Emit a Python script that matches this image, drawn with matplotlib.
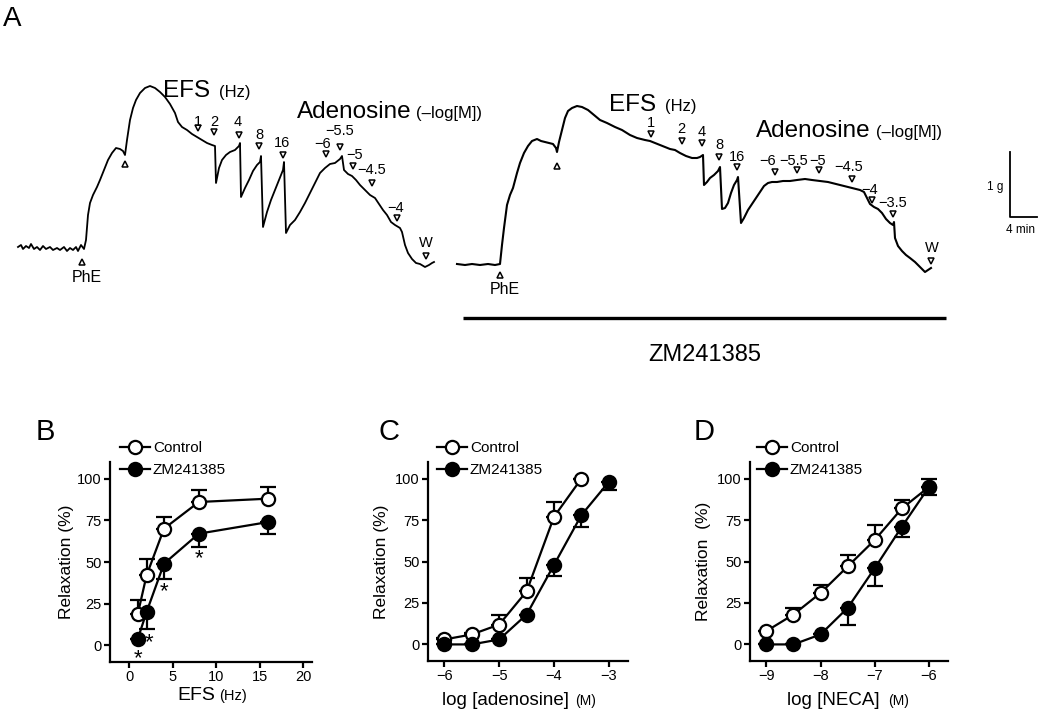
import numpy as np
import matplotlib
matplotlib.use("Agg")
import matplotlib.pyplot as plt
from matplotlib.lines import Line2D

plt.rcParams['font.family'] = ['Liberation Sans', 'DejaVu Sans']

W, H = 1038, 714

# ---------------- Panel A: recording traces (recording units; 6.75 units = 1 min, 65 units = 1 g, level axis inverted) ----
ctrl_trace_t = [18, 21, 23, 26, 29, 31, 34, 37, 40, 43, 46, 50, 53, 57, 60, 64, 67, 70, 73, 76, 78, 81, 84,
                86, 88, 90, 93, 97, 100, 104, 108, 112, 116, 120, 123, 125,
                127, 130, 133, 136, 140, 145, 150, 155, 160, 165, 170, 175, 178, 182, 187, 192, 197, 202, 207, 212, 215,
                216, 219, 222, 226, 230, 235, 239, 240,
                241, 245, 249, 253, 257, 260, 261,
                263, 267, 271, 275, 279, 283, 284,
                286, 290, 295, 300, 305, 310, 315, 320, 325, 330, 335, 340, 342,
                344, 348, 352, 356, 360, 365, 370, 375, 379, 383, 387, 391, 395, 400, 402, 405, 408, 412, 416, 420, 425, 429, 432, 434]
ctrl_trace_level = [247, 245, 249, 246, 248, 244, 249, 247, 250, 246, 249, 247, 250, 248, 250, 247, 251, 248, 250, 247, 251, 245, 249,
                    240, 215, 203, 195, 187, 180, 170, 160, 153, 148, 149, 151, 155,
                    140, 120, 108, 100, 93, 88, 86, 88, 92, 97, 104, 113, 122, 127, 130, 134, 137, 140, 143, 145, 146,
                    183, 168, 160, 155, 152, 150, 146, 143,
                    197, 188, 180, 171, 165, 162, 156,
                    227, 212, 200, 190, 180, 170, 162,
                    233, 225, 220, 212, 203, 193, 183, 173, 168, 164, 163, 159, 156,
                    170, 174, 176, 180, 185, 190, 195, 198, 204, 210, 215, 222, 225, 228, 232, 245, 253, 259, 263, 264, 267, 265, 263, 262]

zm_trace_t = [457, 465, 472, 480, 488, 495, 500,
              502, 504, 507, 510, 513, 517, 520, 524, 528, 532, 537, 541, 545, 549, 553, 556, 557,
              559, 562, 565, 568, 572, 577, 582, 588, 594, 600, 607, 615, 622, 630, 637, 645, 650, 655, 660, 665,
              670, 675, 680, 686, 692, 697, 700, 703,
              704, 707, 710, 714, 718, 720,
              722, 725, 728, 731, 734, 737, 738,
              741, 744, 748, 752, 756, 760, 764, 768, 772, 777, 783, 790, 797, 805, 812, 820, 828, 836, 844, 852,
              860, 864, 867, 870, 874, 878, 882, 886, 890, 893, 894,
              895, 898, 902, 906, 910, 915, 920, 925, 928, 931]
zm_trace_level = [264, 265, 264, 265, 264, 265, 264,
                  245, 228, 205, 195, 188, 173, 163, 153, 146, 141, 139, 141, 142, 143, 144, 148, 152,
                  142, 130, 118, 111, 108, 106, 107, 110, 115, 120, 123, 127, 130, 135, 138, 140, 141, 143, 145, 147,
                  149, 150, 153, 156, 158, 158, 157, 155,
                  185, 182, 178, 175, 171, 167,
                  209, 208, 203, 193, 185, 180, 177,
                  223, 218, 210, 204, 198, 192, 186, 183, 182, 182, 181, 181, 180, 179, 180, 181, 182, 184, 186, 188,
                  190, 192, 198, 204, 207, 209, 213, 219, 223, 225, 222,
                  238, 246, 251, 255, 258, 262, 267, 272, 270, 268]

# event marks: (label, label x, label y, arrow x, arrow y)
ctrl_events = [("1", 198, 122, 198, 128), ("2", 214, 122, 214, 132), ("4", 238, 122, 239, 135),
               ("8", 259, 135, 259, 146), ("16", 282, 143, 283, 155), ("\u22126", 323, 144, 326, 154),
               ("\u22125.5", 340, 131, 340, 147), ("\u22125", 355, 155, 353, 166),
               ("\u22124.5", 372, 170, 372, 183), ("\u22124", 396, 208, 397, 218), ("W", 426, 243, 426, 256)]
zm_events = [("1", 651, 123, 651, 134), ("2", 681, 129, 682, 141), ("4", 702, 132, 702, 143),
             ("8", 719, 145, 719, 157), ("16", 737, 157, 737, 167), ("\u22126", 768, 161, 775, 172),
             ("\u22125.5", 794, 161, 797, 170), ("\u22125", 818, 161, 819, 170),
             ("\u22124.5", 849, 167, 852, 179), ("\u22124", 870, 190, 872, 200),
             ("\u22123.5", 893, 203, 893, 214), ("W", 932, 248, 931, 261)]
up_arrows_t = [82, 125, 500, 557]
up_arrows_level = [262, 164, 275, 166]

# ---------------- Panels B-D data ----------------
efs_hz = [1, 2, 4, 8, 16]
efs_ctrl = [19, 42, 70, 86, 88]
efs_ctrl_err = [8, 10, 7, 7, 7]
efs_zm = [4, 20, 49, 67, 74]
efs_zm_err = [0, 10, 9, 8, 7]
efs_sig_x = [1, 2.3, 4, 8]
efs_sig_y = [-4, 5.5, 36.5, 56]

ado_log = [-6, -5.5, -5, -4.5, -4, -3.5, -3]
ado_ctrl = [3, 6, 12, 32, 77, 100, None]
ado_ctrl_err = [1, 1, 6, 8, 9, 0, None]
ado_zm = [0, 0, 3, 18, 48, 78, 98]
ado_zm_err = [0, 0, 0, 0, 7, 7, 5]

neca_log = [-9, -8.5, -8, -7.5, -7, -6.5, -6]
neca_ctrl = [8, 18, 31, 47, 63, 82, 95]
neca_ctrl_err = [0, 4, 5, 7, 9, 5, 5]
neca_zm = [0, 0, 6, 22, 46, 71, 95]
neca_zm_err = [0, 0, 0, 10, 11, 6, 5]

fig = plt.figure(figsize=(W / 100, H / 100), dpi=100)

# overlay axes in recording units for panel A
axA = fig.add_axes([0, 0, 1, 1])
axA.set_xlim(0, W)
axA.set_ylim(H, 0)
axA.axis('off')

axA.plot(ctrl_trace_t, ctrl_trace_level, color='black', lw=1.3)
axA.plot(zm_trace_t, zm_trace_level, color='black', lw=1.5)
for lab, lx, ly, ax_, ay in ctrl_events + zm_events:
    axA.text(lx, ly, lab, fontsize=10.5, ha='center', va='center')
    axA.plot([ax_], [ay], marker='v', ms=5, mfc='white', mec='black', mew=1.1, ls='none')
axA.plot(up_arrows_t, up_arrows_level, marker='^', ms=5, mfc='white', mec='black', mew=1.1, ls='none')
axA.text(87, 278, "PhE", fontsize=11.5, ha='center', va='center')
axA.text(505, 290, "PhE", fontsize=11.5, ha='center', va='center')

axA.text(163, 97, "EFS", fontsize=17.5, ha='left', va='baseline')
axA.text(219, 97, "(Hz)", fontsize=12, ha='left', va='baseline')
axA.text(297, 118, "Adenosine", fontsize=17.5, ha='left', va='baseline')
axA.text(416, 118, "(\u2013log[M])", fontsize=12, ha='left', va='baseline')
axA.text(609, 111, "EFS", fontsize=17.5, ha='left', va='baseline')
axA.text(665, 111, "(Hz)", fontsize=12, ha='left', va='baseline')
axA.text(756, 137, "Adenosine", fontsize=17.5, ha='left', va='baseline')
axA.text(876, 137, "(\u2013log[M])", fontsize=12, ha='left', va='baseline')

axA.plot([463, 946], [318, 318], color='black', lw=2.4, solid_capstyle='butt')
axA.text(705, 355, "ZM241385", fontsize=17, ha='center', va='center')

# scale bar: 1 g = 65 units, 4 min = 27 units
axA.plot([1010, 1010, 1037], [152, 217, 217], color='black', lw=1.3)
axA.text(1003, 187, "1 g", fontsize=8.5, ha='right', va='center')
axA.text(1020, 230, "4 min", fontsize=8.5, ha='center', va='center')

axA.text(3, 19, "A", fontsize=20, ha='left', va='center')
axA.text(36, 432, "B", fontsize=21, ha='left', va='center')
axA.text(378, 432, "C", fontsize=21, ha='left', va='center')
axA.text(694, 432, "D", fontsize=21, ha='left', va='center')


def style(ax, xlim, xticks):
    ax.set_xlim(*xlim)
    ax.set_ylim(-10, 110)
    ax.set_xticks(xticks)
    ax.set_yticks([0, 25, 50, 75, 100])
    for s in ['top', 'right']:
        ax.spines[s].set_visible(False)
    for s in ['left', 'bottom']:
        ax.spines[s].set_linewidth(1.6)
    ax.tick_params(width=1.6, length=4.5, labelsize=10.5, pad=1.5, direction='out')
    ax.set_facecolor('none')


def draw(ax, x, yc, ec, yz, ez):
    xc = [a for a, b in zip(x, yc) if b is not None]
    ycc = [b for b in yc if b is not None]
    ecc = [e for e, b in zip(ec, yc) if b is not None]
    ax.errorbar(x, yz, yerr=[ez, [0] * len(ez)], fmt='none', ecolor='black', elinewidth=1.6,
                capsize=5.5, capthick=1.6, zorder=2)
    ax.errorbar(xc, ycc, yerr=[[0] * len(ecc), ecc], fmt='none', ecolor='black', elinewidth=1.6,
                capsize=5.5, capthick=1.6, zorder=2)
    ax.plot(xc, ycc, '-o', color='black', lw=1.6, ms=9.5, mfc='white', mec='black', mew=1.6,
            zorder=3, clip_on=False)
    ax.plot(x, yz, '-o', color='black', lw=1.6, ms=9.5, mfc='black', mec='black', mew=1.6,
            zorder=4, clip_on=False)


def legend(ax, x_px, y_px):
    h1 = Line2D([], [], color='black', lw=1.6, marker='o', ms=9.5, mfc='white', mec='black', mew=1.6)
    h2 = Line2D([], [], color='black', lw=1.6, marker='o', ms=9.5, mfc='black', mec='black', mew=1.6)
    ax.legend([h1, h2], ["Control", "ZM241385"], loc='upper left', frameon=False,
              bbox_to_anchor=(x_px / W, 1 - y_px / H), bbox_transform=fig.transFigure,
              borderpad=0, borderaxespad=0, handlelength=1.95, handletextpad=0.2,
              labelspacing=0.55, fontsize=11, numpoints=1)


axB = fig.add_axes([110 / W, 1 - 662 / H, 202 / W, 200 / H])
style(axB, (-2.2, 21), [0, 5, 10, 15, 20])
draw(axB, efs_hz, efs_ctrl, efs_ctrl_err, efs_zm, efs_zm_err)
legend(axB, 120, 441)
axB.set_ylabel("Relaxation (%)", fontsize=12.5, labelpad=2)
for sx, sy in zip(efs_sig_x, efs_sig_y):
    axB.annotate("*", xy=(sx, sy), xytext=(0, -9), textcoords='offset points',
                 fontsize=16, ha='center', va='baseline')
axA.text(177, 700, "EFS", fontsize=14, ha='left', va='baseline')
axA.text(219, 700, "(Hz)", fontsize=10.5, ha='left', va='baseline')

axC = fig.add_axes([428 / W, 1 - 661 / H, 200 / W, 199 / H])
style(axC, (-6.3, -2.65), [-6, -5, -4, -3])
draw(axC, ado_log, ado_ctrl, ado_ctrl_err, ado_zm, ado_zm_err)
legend(axC, 437, 441)
axC.set_ylabel("Relaxation (%)", fontsize=12.5, labelpad=4)
axA.text(442, 705, "log [adenosine]", fontsize=13.5, ha='left', va='baseline')
axA.text(575, 705, "(M)", fontsize=10, ha='left', va='baseline')

axD = fig.add_axes([750 / W, 1 - 661 / H, 198 / W, 199 / H])
style(axD, (-9.3, -5.65), [-9, -8, -7, -6])
draw(axD, neca_log, neca_ctrl, neca_ctrl_err, neca_zm, neca_zm_err)
legend(axD, 757, 441)
axD.set_ylabel("Relaxation  (%)", fontsize=12.5, labelpad=4)
axA.text(787, 705, "log [NECA]", fontsize=13.5, ha='left', va='baseline')
axA.text(888, 705, "(M)", fontsize=10, ha='left', va='baseline')

fig.savefig("out.png", dpi=100)
